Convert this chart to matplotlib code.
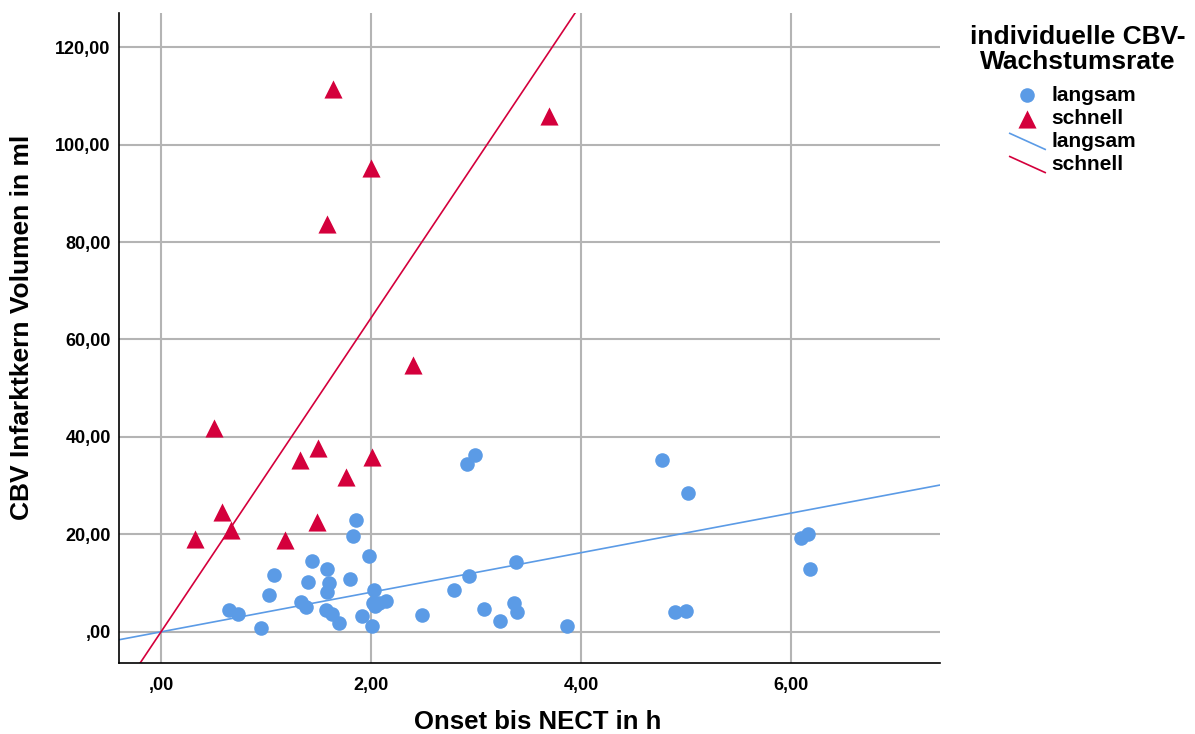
import matplotlib
matplotlib.use("Agg")
from matplotlib import pyplot as plt
from matplotlib.ticker import FuncFormatter
from matplotlib.legend_handler import HandlerBase
from matplotlib.lines import Line2D
import numpy as np

plt.rcParams['font.family'] = ['Liberation Sans', 'DejaVu Sans']

# langsam (blaue Punkte)
slow_x = [1.86, 1.83, 1.98, 1.44, 1.58, 1.08, 1.40, 1.60, 1.80, 1.03, 1.58,
          2.03, 1.33, 1.38, 0.65, 0.73, 1.57, 1.63, 1.70, 1.91, 0.95, 2.01,
          2.02, 2.04, 2.08, 2.14, 2.49, 2.99, 2.91, 3.38, 2.93, 2.79, 3.08,
          3.36, 3.39, 3.23, 3.87, 4.77, 5.02, 4.90, 5.00, 6.10, 6.16, 6.18]
slow_y = [23.0, 19.7, 15.6, 14.6, 12.9, 11.7, 10.2, 10.1, 10.8, 7.6, 8.1,
          8.6, 6.2, 5.0, 4.5, 3.6, 4.5, 3.6, 1.9, 3.3, 0.7, 1.2,
          6.0, 5.3, 5.9, 6.4, 3.5, 36.2, 34.4, 14.4, 11.4, 8.5, 4.7,
          6.0, 4.1, 2.2, 1.2, 35.3, 28.5, 4.1, 4.3, 19.3, 20.1, 12.9]

# schnell (rote Dreiecke)
fast_x = [0.32, 0.50, 0.58, 0.67, 1.18, 1.32, 1.49, 1.50, 1.58, 1.64, 1.76,
          2.00, 2.01, 2.40, 3.70]
fast_y = [19.1, 41.8, 24.6, 20.9, 18.9, 35.3, 22.6, 37.7, 83.7, 111.4, 31.8,
          95.2, 35.9, 54.8, 105.8]

# Regressionsgeraden durch den Ursprung (Steigung)
slope_slow = 4.06
slope_fast = 32.2

blue = '#5b9be6'
red = '#d4003c'


class HandlerDiag(HandlerBase):
    """schräge Linie im Legendensymbol, wie in SPSS"""
    def create_artists(self, legend, orig_handle, xdescent, ydescent,
                       width, height, fontsize, trans):
        ln = Line2D([-xdescent, -xdescent + width],
                    [height * 0.95, -height * 0.15],
                    color=orig_handle.get_color(), linewidth=1.2)
        ln.set_transform(trans)
        return [ln]


fig = plt.figure(figsize=(11.95, 7.34), dpi=100)
ax = fig.add_axes([0.0996, 0.0967, 0.6870, 0.8856])

xlim = (-0.40, 7.42)
ylim = (-6.4, 127.0)

ax.grid(True, color='#b4b4b4', linewidth=1.5)
ax.set_axisbelow(True)

xx = np.array(xlim)
l1, = ax.plot(xx, slope_slow * xx, color=blue, linewidth=1.2, zorder=2)
l2, = ax.plot(xx, slope_fast * xx, color=red, linewidth=1.2, zorder=2)

s1 = ax.scatter(slow_x, slow_y, s=110, color=blue, marker='o', linewidths=0, zorder=3)
s2 = ax.scatter(fast_x, fast_y, s=170, color=red, marker='^', linewidths=0, zorder=3)

ax.set_xlim(*xlim)
ax.set_ylim(*ylim)
ax.set_xticks([0, 2, 4, 6])
ax.set_yticks([0, 20, 40, 60, 80, 100, 120])


def fmt(v, pos):
    s = f"{v:.2f}".replace('.', ',')
    if s.startswith('0'):
        s = s[1:]
    return s


ax.xaxis.set_major_formatter(FuncFormatter(fmt))
ax.yaxis.set_major_formatter(FuncFormatter(fmt))
ax.tick_params(axis='x', length=0, labelsize=13, pad=10)
ax.tick_params(axis='y', length=0, labelsize=13, pad=6)
for lab in ax.get_xticklabels() + ax.get_yticklabels():
    lab.set_fontweight('bold')

for side in ['top', 'right']:
    ax.spines[side].set_visible(False)
for side in ['left', 'bottom']:
    ax.spines[side].set_color('black')
    ax.spines[side].set_linewidth(1.2)

# Achsentitel frei platziert
fig.text(0.450, 0.0163, "Onset bis NECT in h", fontsize=18.5, fontweight='bold',
         ha='center', va='center')
fig.text(0.0184, 0.5545, "CBV Infarktkern Volumen in ml", fontsize=19,
         fontweight='bold', ha='center', va='center', rotation=90)

# Legende
fig.text(0.9017, 0.9325, "individuelle CBV-\nWachstumsrate", fontsize=19,
         fontweight='bold', ha='center', va='center', multialignment='center',
         linespacing=1.06)
leg = fig.legend([s1, s2, l1, l2], ['langsam', 'schnell', 'langsam', 'schnell'],
                 loc='upper left', bbox_to_anchor=(0.845, 0.883), frameon=False,
                 prop={'weight': 'bold', 'size': 15}, handlelength=1.7,
                 handletextpad=0.3, labelspacing=0.2, borderpad=0,
                 borderaxespad=0, scatterpoints=1,
                 handler_map={Line2D: HandlerDiag()})

fig.savefig('out.png', dpi=100)
